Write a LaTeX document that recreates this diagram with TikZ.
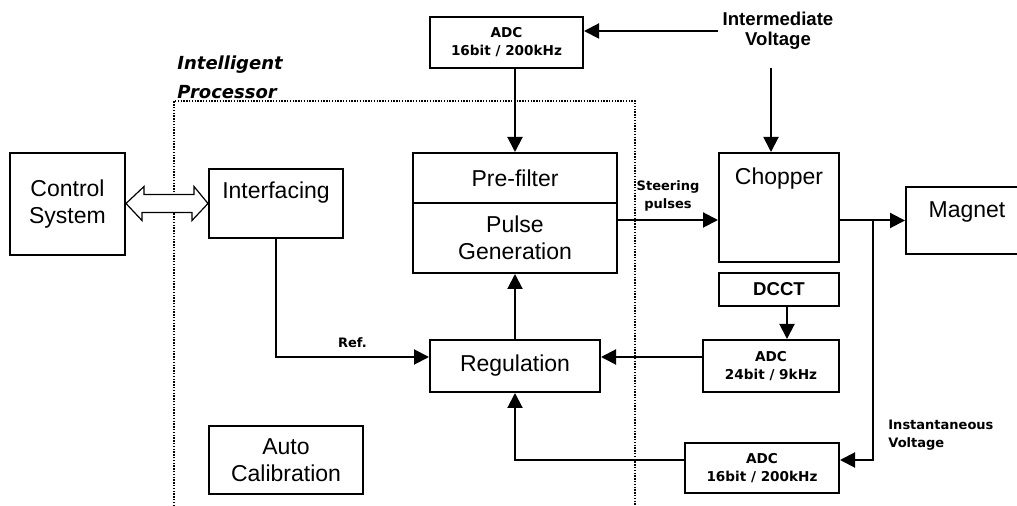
\documentclass[tikz,border=0pt]{standalone}
\usepackage{fontspec}
\setmainfont{Liberation Sans}
\newfontfamily\tagfont{DejaVu Sans}
\usetikzlibrary{arrows.meta,calc}

\tikzset{
  blk/.style={draw, line width=1pt, inner sep=0pt, align=center, font=\fontsize{11.5}{13.5}\selectfont},
  adc/.style={blk, font=\tagfont\bfseries\fontsize{6.8}{9}\selectfont},
  toptext/.style 2 args={label={[anchor=north, inner sep=0pt, yshift=-#2, font=\fontsize{11.5}{13.5}\selectfont]north:#1}},
  tag/.style={font=\tagfont\bfseries\fontsize{6.5}{9}\selectfont, align=center, inner sep=1pt},
  head/.style={font=\bfseries\fontsize{9.3}{10}\selectfont, align=center, inner sep=2pt},
  sig/.style={line width=1pt, -{Triangle[length=7.5pt,width=7.5pt]}},
  dbl/.style={line width=0.6pt, fill=white},
  frame/.style={line width=0.7pt, dash pattern=on 0.7pt off 0.7pt},
}

\begin{document}
\begin{tikzpicture}[x=0.5pt,y=-0.5pt]
\useasboundingbox (0,0) rectangle (1017,506);
\clip (0,0) rectangle (1017,506);

% processor area
\draw[frame] (174,520) |- (635,101) -- (635,520);
\node[font=\tagfont\bfseries\itshape\fontsize{9}{14.5}\selectfont, align=left, anchor=west, inner sep=0pt] (proc) at (177,77) {Intelligent\\Processor};

% blocks
\node[blk, minimum width=57.5pt, minimum height=51pt] (ctrl) at (67.5,204) {Control\\System};
\node[blk, minimum width=67pt, minimum height=34.5pt, toptext={Interfacing}{6.5pt}] (iface) at (276,203.5) {};
\node[adc, minimum width=76.5pt, minimum height=25.5pt] (adcA) at (506.5,42.5) {ADC\\16bit / 200kHz};
\node[blk, minimum width=102pt, minimum height=25pt] (pref) at (515,178) {Pre-filter};
\node[blk, minimum width=102pt, minimum height=35pt] (pulse) at (515,238) {Pulse\\Generation};
\node[blk, minimum width=85pt, minimum height=26pt] (reg) at (515,366) {Regulation};
\node[blk, minimum width=77pt, minimum height=34pt] (auto) at (286,460) {Auto\\Calibration};
\node[blk, minimum width=60pt, minimum height=54.5pt, toptext={Chopper}{7.5pt}] (chop) at (779,207.5) {};
\node[blk, minimum width=61pt, minimum height=33.5pt, toptext={Magnet}{7.5pt}] (magnet) at (967,220.5) {};
\node[blk, minimum width=60pt, minimum height=16.5pt, font=\bfseries\fontsize{9.3}{10}\selectfont] (dcct) at (779,289.5) {DCCT};
\node[adc, minimum width=68pt, minimum height=26pt] (adcB) at (771,366) {ADC\\24bit / 9kHz};
\node[adc, minimum width=77pt, minimum height=25pt] (adcC) at (762,468) {ADC\\16bit / 200kHz};

% outside signals
\node[head] (imv) at (778,31) {Intermediate\\Voltage};
\coordinate (imvfoot) at (771,68);
\coordinate (tap) at ($(chop.east |- magnet.west)!0.5!(magnet.west)$);
\node[tag, align=left, anchor=west] (inst) at (886,435) {Instantaneous\\Voltage};

% bus to the control system
\draw[dbl] (ctrl.east |- iface.west) -- ++(18,-17) -- ++(0,8) -- ++(50,0) -- ++(0,-8)
  -- (iface.west) -- ++(-16,17) -- ++(0,-8) -- ++(-50,0) -- ++(0,8) -- cycle;

% signal flow
\draw[sig] (imv.west) -- (imv.west -| adcA.east);
\draw[sig] (imvfoot) -- (imvfoot |- chop.north);
\draw[sig] (pref.north |- adcA.south) -- (pref.north);
\draw[sig] ([yshift=9pt]pulse.east) -- ([yshift=9pt]pulse.east -| chop.west)
  node[tag, midway, above=3pt] (steer) {Steering\\pulses};
\draw[sig] (magnet.west -| chop.east) -- (magnet.west);
\draw[sig] (tap) |- ([yshift=4pt]adcC.east);
\draw[sig] ([xshift=4pt]dcct.south) -- ([xshift=4pt]dcct.south |- adcB.north);
\draw[sig] ([yshift=4.5pt]adcB.west) -- ([yshift=4.5pt]adcB.west -| reg.east);
\draw[sig] (iface.south) |- ([yshift=4.5pt]reg.west) node[tag, pos=0.75, above=3pt] (ref) {Ref.};
\draw[sig] (reg.north) -- (pulse.south);
\draw[sig] ([yshift=4pt]adcC.west) -| (reg.south);
\end{tikzpicture}
\end{document}
